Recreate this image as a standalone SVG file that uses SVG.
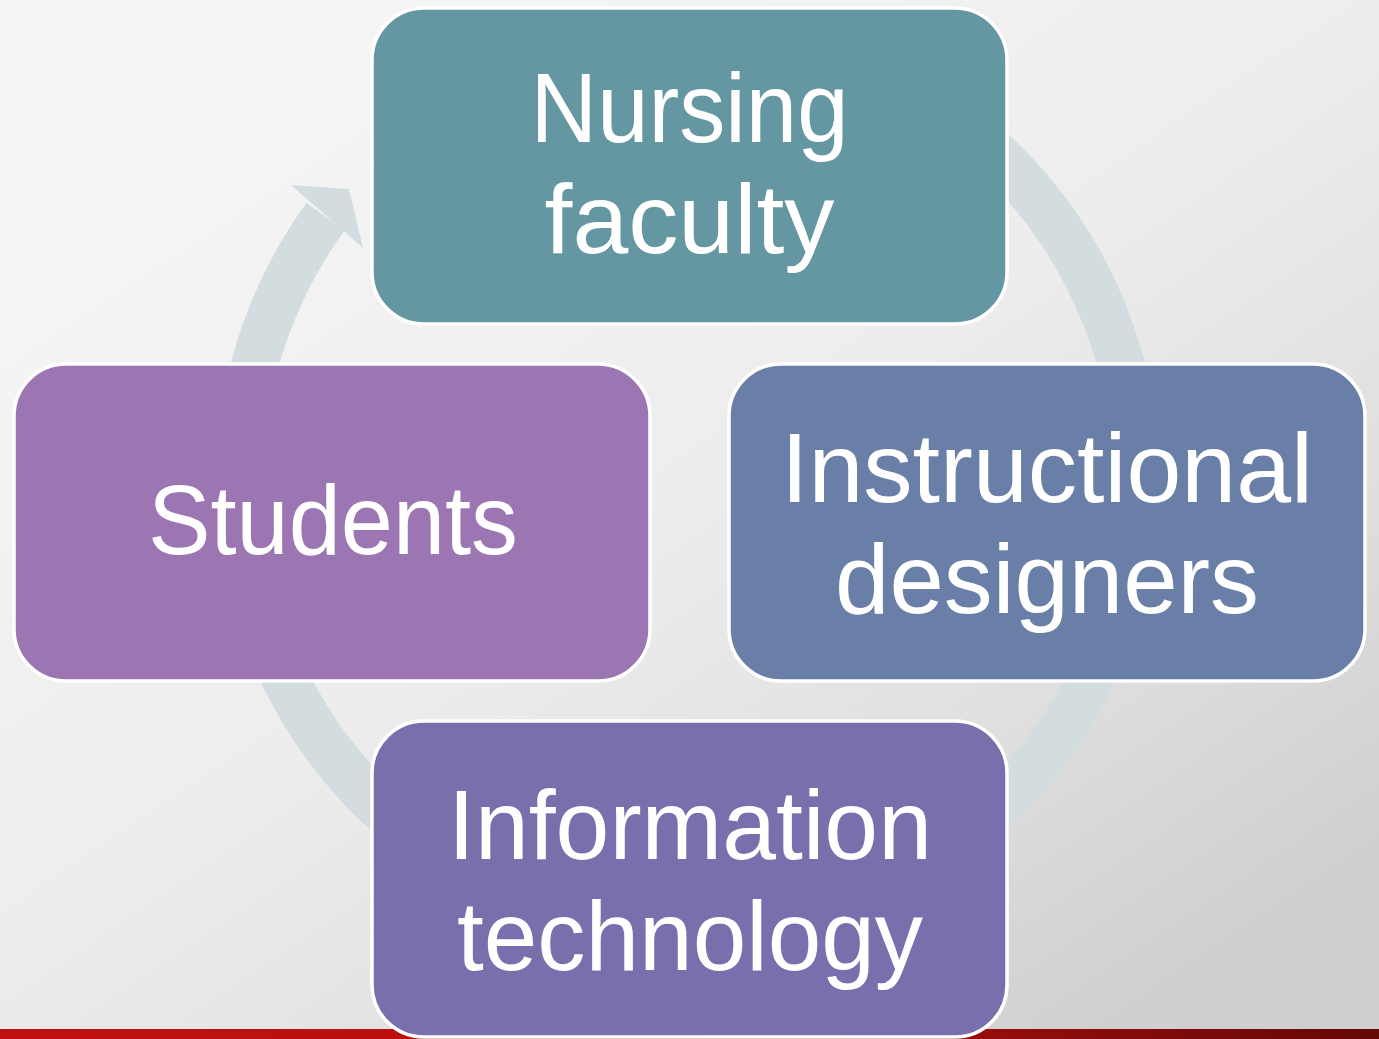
<svg xmlns="http://www.w3.org/2000/svg" width="1379" height="1039" viewBox="0 0 1379 1039">
  <defs>
    <linearGradient id="bg" x1="400" y1="0" x2="1100" y2="1039" gradientUnits="userSpaceOnUse">
      <stop offset="0" stop-color="#F5F5F5"/>
      <stop offset="0.45" stop-color="#EDEDED"/>
      <stop offset="0.75" stop-color="#DFDFDF"/>
      <stop offset="1" stop-color="#CFCFCF"/>
    </linearGradient>
    <linearGradient id="bar" x1="0" y1="0" x2="1379" y2="0" gradientUnits="userSpaceOnUse">
      <stop offset="0" stop-color="#BE1010"/>
      <stop offset="0.5" stop-color="#BA1010"/>
      <stop offset="0.74" stop-color="#920C0C"/>
      <stop offset="1" stop-color="#640707"/>
    </linearGradient>
    <style>
      .box { stroke: #FFFFFF; stroke-width: 3.5; }
      .lbl { font-family: "Liberation Sans", Arial, sans-serif; font-size: 98px; fill: #FFFFFF; text-anchor: middle; }
      .ring { fill: none; stroke: #D3DDE0; stroke-width: 47; }
      .head { fill: #D3DDE0; }
    </style>
  </defs>

  <rect x="0" y="0" width="1379" height="1039" fill="url(#bg)"/>
  <rect x="0" y="1029" width="1379" height="10" fill="url(#bar)"/>

  <g id="connectors">
    <path class="ring" d="M 688 32.5 A 448.5 448.5 0 0 1 688 929.5 A 448.5 448.5 0 0 1 325.6 216.7"/>
    <polygon class="head" points="291,185 349,189 363,248"/>
  </g>

  <g id="node-nursing">
    <rect class="box" x="372" y="8" width="635" height="316" rx="52" ry="52" fill="#6497A1"/>
    <text class="lbl" x="689.5" y="142" textLength="318" lengthAdjust="spacingAndGlyphs">Nursing</text>
    <text class="lbl" x="689.5" y="253" textLength="290" lengthAdjust="spacingAndGlyphs">faculty</text>
  </g>

  <g id="node-students">
    <rect class="box" x="14" y="364" width="636" height="317" rx="52" ry="52" fill="#9B76B3"/>
    <text class="lbl" x="333" y="554" textLength="370" lengthAdjust="spacingAndGlyphs">Students</text>
  </g>

  <g id="node-instructional">
    <rect class="box" x="729" y="364" width="636" height="317" rx="52" ry="52" fill="#6A7FA7"/>
    <text class="lbl" x="1047" y="502" textLength="532" lengthAdjust="spacingAndGlyphs">Instructional</text>
    <text class="lbl" x="1047" y="613" textLength="424" lengthAdjust="spacingAndGlyphs">designers</text>
  </g>

  <g id="node-information">
    <rect class="box" x="372" y="721" width="635" height="316" rx="52" ry="52" fill="#786FAC"/>
    <text class="lbl" x="690" y="859" textLength="484" lengthAdjust="spacingAndGlyphs">Information</text>
    <text class="lbl" x="690" y="970" textLength="466" lengthAdjust="spacingAndGlyphs">technology</text>
  </g>
</svg>
